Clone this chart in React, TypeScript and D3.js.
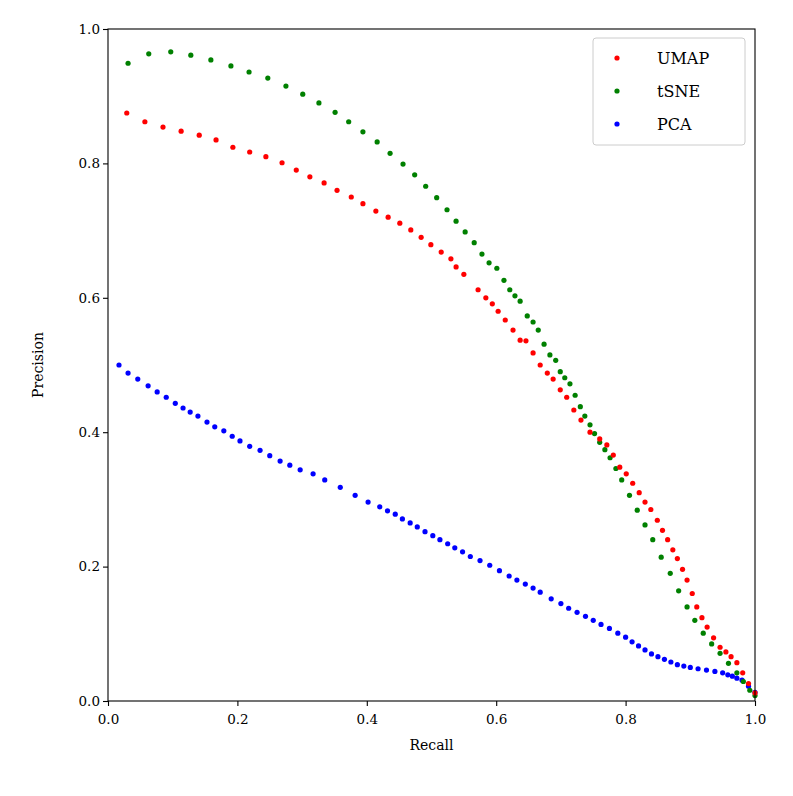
import React, { useRef, useEffect } from 'react';
import * as d3 from 'd3';

const umapRecall = [0.029, 0.057, 0.085, 0.113, 0.141, 0.167, 0.193, 0.219, 0.244, 0.269, 0.291, 0.312, 0.334, 0.354, 0.376, 0.394, 0.414, 0.433, 0.451, 0.468, 0.484, 0.499, 0.515, 0.53, 0.538, 0.55, 0.572, 0.584, 0.594, 0.603, 0.614, 0.626, 0.637, 0.646, 0.657, 0.668, 0.679, 0.688, 0.699, 0.709, 0.72, 0.731, 0.745, 0.76, 0.771, 0.781, 0.791, 0.801, 0.811, 0.821, 0.83, 0.839, 0.849, 0.857, 0.865, 0.873, 0.88, 0.888, 0.895, 0.903, 0.91, 0.918, 0.926, 0.936, 0.946, 0.955, 0.963, 0.972, 0.981, 0.99, 1.0];
const umapPrecision = [0.875, 0.862, 0.854, 0.848, 0.842, 0.835, 0.824, 0.817, 0.81, 0.801, 0.79, 0.78, 0.771, 0.76, 0.75, 0.74, 0.729, 0.72, 0.711, 0.701, 0.69, 0.679, 0.668, 0.658, 0.646, 0.635, 0.612, 0.6, 0.591, 0.58, 0.567, 0.552, 0.537, 0.536, 0.518, 0.5, 0.488, 0.479, 0.463, 0.452, 0.433, 0.418, 0.4, 0.39, 0.381, 0.366, 0.348, 0.338, 0.324, 0.31, 0.296, 0.285, 0.269, 0.254, 0.24, 0.225, 0.212, 0.196, 0.18, 0.16, 0.14, 0.124, 0.11, 0.094, 0.08, 0.073, 0.066, 0.057, 0.042, 0.026, 0.012];

const tsneRecall = [0.031, 0.063, 0.097, 0.128, 0.159, 0.19, 0.218, 0.247, 0.275, 0.301, 0.326, 0.351, 0.372, 0.394, 0.416, 0.436, 0.456, 0.474, 0.491, 0.508, 0.524, 0.538, 0.552, 0.566, 0.578, 0.589, 0.601, 0.612, 0.621, 0.629, 0.637, 0.648, 0.657, 0.665, 0.674, 0.683, 0.692, 0.699, 0.706, 0.714, 0.722, 0.73, 0.737, 0.745, 0.752, 0.76, 0.768, 0.776, 0.785, 0.794, 0.806, 0.818, 0.83, 0.842, 0.855, 0.869, 0.882, 0.895, 0.907, 0.92, 0.933, 0.946, 0.959, 0.972, 0.982, 0.992, 1.0];
const tsnePrecision = [0.949, 0.963, 0.966, 0.961, 0.954, 0.945, 0.936, 0.927, 0.915, 0.903, 0.89, 0.876, 0.862, 0.847, 0.832, 0.815, 0.799, 0.783, 0.766, 0.749, 0.731, 0.714, 0.698, 0.682, 0.665, 0.652, 0.644, 0.626, 0.612, 0.603, 0.595, 0.573, 0.564, 0.552, 0.531, 0.515, 0.507, 0.49, 0.481, 0.472, 0.455, 0.438, 0.424, 0.411, 0.398, 0.385, 0.374, 0.362, 0.346, 0.329, 0.306, 0.284, 0.262, 0.24, 0.214, 0.19, 0.164, 0.14, 0.12, 0.101, 0.085, 0.071, 0.056, 0.042, 0.029, 0.016, 0.008];

const pcaRecall = [0.017, 0.031, 0.046, 0.062, 0.076, 0.09, 0.104, 0.116, 0.127, 0.139, 0.153, 0.165, 0.179, 0.192, 0.204, 0.219, 0.235, 0.25, 0.266, 0.281, 0.297, 0.317, 0.335, 0.359, 0.382, 0.402, 0.42, 0.432, 0.444, 0.455, 0.467, 0.478, 0.49, 0.502, 0.513, 0.525, 0.536, 0.548, 0.56, 0.575, 0.59, 0.605, 0.62, 0.632, 0.645, 0.657, 0.668, 0.685, 0.7, 0.712, 0.725, 0.738, 0.75, 0.762, 0.775, 0.788, 0.8, 0.81, 0.82, 0.83, 0.84, 0.85, 0.86, 0.87, 0.88, 0.89, 0.9, 0.912, 0.925, 0.938, 0.95, 0.958, 0.965, 0.972, 0.98, 0.99, 1.0];
const pcaPrecision = [0.5, 0.488, 0.479, 0.469, 0.46, 0.452, 0.443, 0.436, 0.43, 0.424, 0.415, 0.408, 0.402, 0.394, 0.387, 0.379, 0.373, 0.365, 0.357, 0.351, 0.344, 0.338, 0.329, 0.318, 0.306, 0.296, 0.289, 0.283, 0.278, 0.271, 0.265, 0.259, 0.252, 0.246, 0.24, 0.234, 0.228, 0.222, 0.215, 0.209, 0.202, 0.194, 0.186, 0.18, 0.174, 0.168, 0.162, 0.152, 0.145, 0.138, 0.132, 0.126, 0.12, 0.114, 0.108, 0.101, 0.095, 0.088, 0.082, 0.076, 0.07, 0.066, 0.062, 0.058, 0.054, 0.052, 0.05, 0.048, 0.046, 0.044, 0.042, 0.039, 0.037, 0.034, 0.031, 0.022, 0.013];

const seriesNames = ['UMAP', 'tSNE', 'PCA'];
const seriesColors = ['#ff0000', '#008000', '#0000ff'];
const ticks = [0, 0.2, 0.4, 0.6, 0.8, 1.0];

const App: React.FC = () => {
  const ref = useRef<SVGSVGElement>(null);

  useEffect(() => {
    const svg = d3.select(ref.current);
    svg.selectAll('*').remove();
    const left = 100, top = 21, w = 647, h = 672;
    const x = d3.scaleLinear().domain([0, 1]).range([0, w]);
    const y = d3.scaleLinear().domain([0, 1]).range([h, 0]);
    const g = svg.append('g').attr('transform', `translate(${left},${top})`);
    const font = 'DejaVu Serif';

    const series = [
      { xs: umapRecall, ys: umapPrecision },
      { xs: tsneRecall, ys: tsnePrecision },
      { xs: pcaRecall, ys: pcaPrecision },
    ];
    // PCA drawn first so red/green sit on top at the tail
    [2, 1, 0].forEach(i => {
      const s = series[i];
      g.append('g').selectAll('circle')
        .data(s.xs.map((v, j) => [v, s.ys[j]]))
        .enter().append('circle')
        .attr('cx', d => x(d[0]))
        .attr('cy', d => y(d[1]))
        .attr('r', 2.6)
        .attr('fill', seriesColors[i]);
    });

    const xAxis = g.append('g').attr('transform', `translate(0,${h})`)
      .call(d3.axisBottom(x).tickValues(ticks).tickFormat(d3.format('.1f')).tickSizeOuter(0).tickSize(5));
    const yAxis = g.append('g')
      .call(d3.axisLeft(y).tickValues(ticks).tickFormat(d3.format('.1f')).tickSizeOuter(0).tickSize(5));
    [xAxis, yAxis].forEach(a => {
      a.select('.domain').remove();
      a.selectAll('text').attr('font-family', font).attr('font-size', 13.5).attr('fill', '#000');
      a.selectAll('line').attr('stroke', '#000').attr('stroke-width', 1.1);
    });
    xAxis.selectAll('text').attr('dy', '1.1em');

    g.append('rect').attr('width', w).attr('height', h)
      .attr('fill', 'none').attr('stroke', '#000').attr('stroke-width', 1.1);

    g.append('text').attr('x', w / 2).attr('y', h + 49).attr('text-anchor', 'middle')
      .attr('font-family', font).attr('font-size', 14).text('Recall');
    g.append('text').attr('transform', `translate(-65,${h / 2}) rotate(-90)`).attr('text-anchor', 'middle')
      .attr('font-family', font).attr('font-size', 14).text('Precision');

    const lg = g.append('g').attr('transform', `translate(${w - 162},9)`);
    lg.append('rect').attr('width', 152).attr('height', 107).attr('rx', 3)
      .attr('fill', '#fff').attr('fill-opacity', 0.8).attr('stroke', '#ccc');
    seriesNames.forEach((n, i) => {
      lg.append('circle').attr('cx', 24).attr('cy', 20 + i * 33).attr('r', 2.6).attr('fill', seriesColors[i]);
      lg.append('text').attr('x', 64).attr('y', 20 + i * 33).attr('dy', '0.35em')
        .attr('font-family', font).attr('font-size', 16).text(n);
    });
  }, []);

  return <svg ref={ref} width={777} height={780} style={{ display: 'block' }} />;
};

export default App;
